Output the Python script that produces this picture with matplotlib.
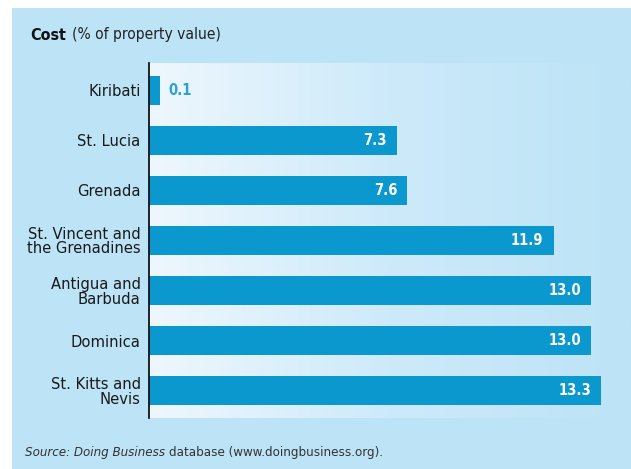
import numpy as np
import matplotlib.pyplot as plt
from matplotlib.colors import LinearSegmentedColormap

countries = ['Kiribati', 'St. Lucia', 'Grenada', 'St. Vincent and\nthe Grenadines',
             'Antigua and\nBarbuda', 'Dominica', 'St. Kitts and\nNevis']
cost = [0.1, 7.3, 7.6, 11.9, 13.0, 13.0, 13.3]

panel = '#bce3f6'
bar_color = '#0a98cf'
plt.rcParams['font.family'] = ['DejaVu Sans']
plt.rcParams['font.stretch'] = 'condensed'

W, H = 631, 469
fig = plt.figure(figsize=(W / 100, H / 100), dpi=100)
fig.patch.set_facecolor('white')

# light blue panel behind everything
bg = fig.add_axes([12 / W, 0, 1 - 12 / W, 1 - 8 / H])
bg.set_facecolor(panel)
bg.set_xticks([])
bg.set_yticks([])
for s in bg.spines.values():
    s.set_visible(False)

# plot area
left, right, top, bottom = 149, 631, 63, 418
ax = fig.add_axes([left / W, 1 - bottom / H, (right - left) / W, (bottom - top) / H])
xmax = (right - left) / 34.0
n = len(countries)
ax.set_xlim(0, xmax)
ax.set_ylim(n - 0.5 + 0.04, -0.5 - 0.04)

grad = LinearSegmentedColormap.from_list('g', ['#eef7fd', '#cdeafa', panel])
ax.imshow(np.linspace(0, 1, 256).reshape(1, -1), cmap=grad, aspect='auto',
          extent=(0, xmax, n - 0.5 + 0.04, -0.5 - 0.04), zorder=0)

y = np.arange(n)
widths = [max(v, 0.32) for v in cost]
ax.barh(y, widths, height=0.58, color=bar_color, zorder=2)
for i, v in enumerate(cost):
    if v < 1:
        ax.text(widths[i] + 0.25, i, f'{v:.1f}', va='center', ha='left',
                color='#2aa2d8', fontsize=10.5, fontweight='bold', zorder=3)
    else:
        ax.text(v - 0.3, i, f'{v:.1f}', va='center', ha='right',
                color='white', fontsize=10.5, fontweight='bold', zorder=3)

ax.set_yticks(y)
ax.set_yticklabels(countries, fontsize=11.8, linespacing=0.95, color='#1a1a1a')
ax.tick_params(axis='y', length=0, pad=6)
ax.set_xticks([])
for s in ['top', 'right', 'bottom']:
    ax.spines[s].set_visible(False)
ax.spines['left'].set_color('black')
ax.spines['left'].set_linewidth(1.2)

fig.canvas.draw()
r = fig.canvas.get_renderer()

t1 = fig.text(30 / W, 1 - 35 / H, 'Cost', fontsize=11.5, fontweight='bold', va='center', color='#111111')
x1 = t1.get_window_extent(r).x1 / W + 6 / W
fig.text(x1, 1 - 35 / H, '(% of property value)', fontsize=11.2, va='center', color='#222222')

t2 = fig.text(25 / W, 1 - 452 / H, 'Source: Doing Business', fontsize=9.5, style='italic',
              va='center', color='#333333')
x2 = t2.get_window_extent(r).x1 / W + 4 / W
fig.text(x2, 1 - 452 / H, 'database (www.doingbusiness.org).', fontsize=9.5,
         va='center', color='#333333')

fig.savefig('out.png', dpi=100)
